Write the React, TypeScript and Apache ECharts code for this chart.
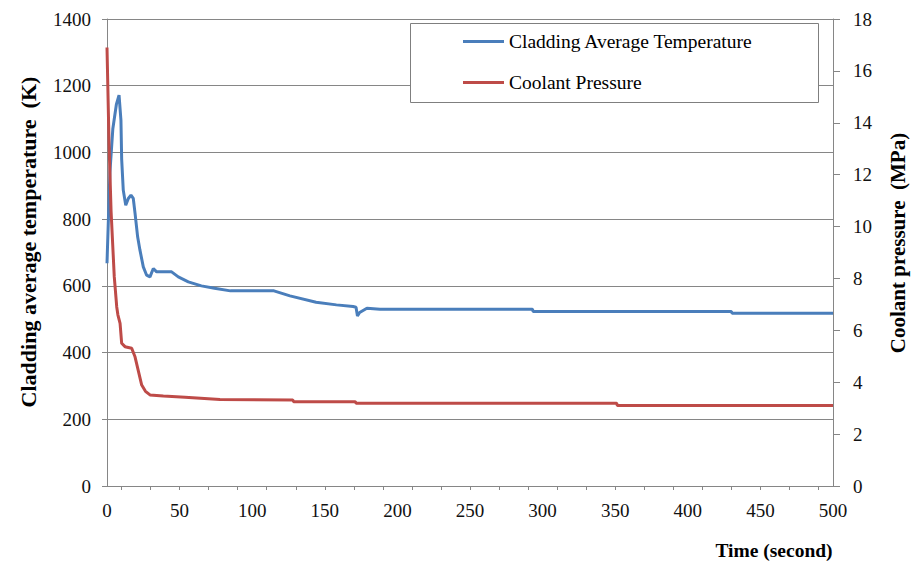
import React, { useEffect, useRef } from "react";
import * as echarts from "echarts";

const tempName = "Cladding Average Temperature";
const pressName = "Coolant Pressure";

// Cladding average temperature (K) vs time (s)
const tempTime = [0, 2, 4, 6.5, 8.3, 9.6, 10.1, 11.2, 12.9, 14.7, 16.5, 18.1, 19.3, 21.1, 22.7, 25, 27.3, 29.6, 31.9, 34.2, 44.5, 49.1, 56, 65, 74, 85, 115, 126, 144, 158, 169.5, 171.5, 172.5, 174, 179, 188, 293, 293.5, 430, 430.5, 500];
const tempValues = [668, 940, 1070, 1145, 1172, 1097, 980, 887, 842, 862, 872, 862, 818, 747, 707, 657, 632, 627, 652, 642, 642, 627, 612, 600, 593, 585, 585, 570, 551, 543, 538, 536, 510, 520, 533, 530, 530, 523, 523, 518, 518];

// Coolant pressure (MPa) vs time (s)
const pressTime = [0, 1.4, 2.8, 5, 6.7, 7.5, 9, 10.1, 12.4, 17, 19.3, 23.9, 26.5, 29.6, 38.8, 53.7, 77.8, 128, 128.5, 171, 171.5, 351, 351.5, 500];
const pressValues = [16.9, 13.2, 10.6, 8.07, 6.9, 6.6, 6.27, 5.5, 5.37, 5.31, 4.98, 3.89, 3.65, 3.51, 3.47, 3.42, 3.33, 3.31, 3.25, 3.25, 3.19, 3.19, 3.1, 3.1];

const xTickValues = [10, 30, 50, 70, 90, 110, 130, 150, 170, 190, 210, 230, 250, 270, 290, 310, 330, 350, 370, 390, 410, 430, 450, 470, 490];

const FONT = "Liberation Serif";

export default function App() {
  const ref = useRef<HTMLDivElement>(null);
  useEffect(() => {
    document.body.style.margin = "0";
    const chart = echarts.init(ref.current!, null, { renderer: "svg" });
    const axisGrey = "#868686";
    const plain = (v: number) => String(v);
    const titleStyle = { fontSize: 22, fontWeight: "bold", fontFamily: FONT, fill: "#000", align: "center", verticalAlign: "middle" };
    chart.setOption({
      animation: false,
      backgroundColor: "#ffffff",
      textStyle: { fontFamily: FONT },
      grid: { left: 107, right: 84, top: 19, bottom: 78 },
      xAxis: {
        type: "value",
        min: 0,
        max: 500,
        interval: 50,
        axisLine: { show: true, lineStyle: { color: axisGrey, width: 1 } },
        axisTick: { show: true, length: 4, customValues: xTickValues, lineStyle: { color: axisGrey } },
        axisLabel: { margin: 15, fontSize: 19, fontFamily: FONT, color: "#111", formatter: plain },
        splitLine: { show: false },
      },
      yAxis: [
        {
          type: "value",
          min: 0,
          max: 1400,
          interval: 200,
          axisLine: { show: true, lineStyle: { color: axisGrey, width: 1 } },
          axisTick: { show: true, length: 5, lineStyle: { color: axisGrey } },
          axisLabel: { margin: 16, fontSize: 19, fontFamily: FONT, color: "#111", formatter: plain },
          splitLine: { show: true, lineStyle: { color: axisGrey, width: 1 } },
        },
        {
          type: "value",
          min: 0,
          max: 18,
          interval: 2,
          position: "right",
          axisLine: { show: true, lineStyle: { color: axisGrey, width: 1 } },
          axisTick: { show: true, length: 7, lineStyle: { color: axisGrey } },
          axisLabel: { margin: 20, fontSize: 19, fontFamily: FONT, color: "#111", formatter: plain },
          splitLine: { show: false },
        },
      ],
      legend: {
        orient: "vertical",
        left: 463,
        top: 31,
        padding: 0,
        itemWidth: 41,
        itemHeight: 3,
        itemGap: 20,
        icon: "rect",
        z: 20,
        textStyle: { fontSize: 19.5, lineHeight: 21, fontFamily: FONT, color: "#000" },
        data: [tempName, pressName],
      },
      graphic: [
        {
          type: "rect",
          z: 10,
          shape: { x: 410.5, y: 23.5, width: 408, height: 79 },
          style: { fill: "#ffffff", stroke: "#7f7f7f", lineWidth: 1 },
        },
        {
          type: "text",
          x: 28,
          y: 242,
          rotation: Math.PI / 2,
          style: { ...titleStyle, text: "Cladding average temperature  (K)" },
        },
        {
          type: "text",
          x: 898,
          y: 243,
          rotation: Math.PI / 2,
          style: { ...titleStyle, fontSize: 21, text: "Coolant pressure  (MPa)" },
        },
        {
          type: "text",
          x: 774,
          y: 550,
          style: { ...titleStyle, fontSize: 19.5, text: "Time (second)" },
        },
      ],
      series: [
        {
          name: tempName,
          type: "line",
          yAxisIndex: 0,
          showSymbol: false,
          lineStyle: { color: "#4A7EBB", width: 3 },
          itemStyle: { color: "#4A7EBB" },
          data: tempTime.map((t, i) => [t, tempValues[i]]),
        },
        {
          name: pressName,
          type: "line",
          yAxisIndex: 1,
          showSymbol: false,
          lineStyle: { color: "#BE4B48", width: 3 },
          itemStyle: { color: "#BE4B48" },
          data: pressTime.map((t, i) => [t, pressValues[i]]),
        },
      ],
    });
    return () => chart.dispose();
  }, []);
  return <div ref={ref} style={{ width: 917, height: 564 }} />;
}
